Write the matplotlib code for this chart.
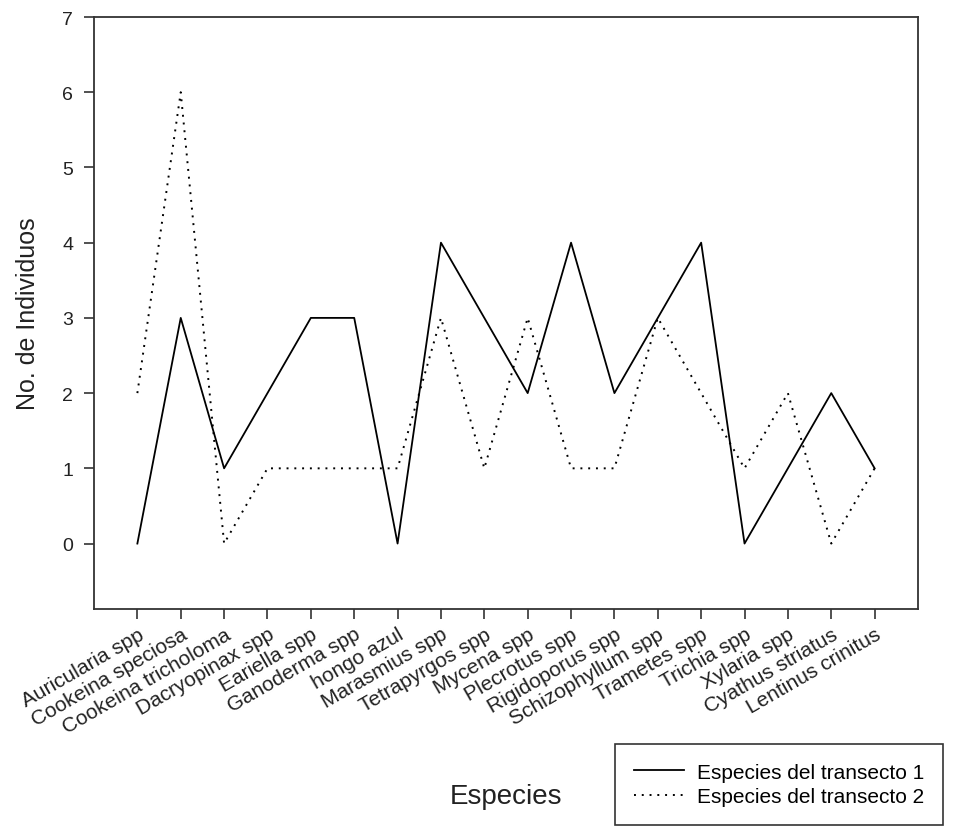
import matplotlib
matplotlib.use("Agg")
import matplotlib.pyplot as plt

plt.rcParams['font.family'] = ['Liberation Sans', 'DejaVu Sans']

species = ["Auricularia spp", "Cookeina speciosa", "Cookeina tricholoma",
           "Dacryopinax spp", "Eariella spp", "Ganoderma spp", "hongo azul",
           "Marasmius spp", "Tetrapyrgos spp", "Mycena spp", "Plecrotus spp",
           "Rigidoporus spp", "Schizophyllum spp", "Trametes spp", "Trichia spp",
           "Xylaria spp", "Cyathus striatus", "Lentinus crinitus"]
transecto1 = [0, 3, 1, 2, 3, 3, 0, 4, 3, 2, 4, 2, 3, 4, 0, 1, 2, 1]
transecto2 = [2, 6, 0, 1, 1, 1, 1, 3, 1, 3, 1, 1, 3, 2, 1, 2, 0, 1]
yticks = [0, 1, 2, 3, 4, 5, 6, 7]

fig = plt.figure(figsize=(9.65, 8.28), dpi=100)
ax = fig.add_axes([94/965, 1-610/828, (918-94)/965, (610-18)/828])

x = list(range(len(species)))
l1, = ax.plot(x, transecto1, color='black', linewidth=1.3, linestyle='-',
              label='Especies del transecto 1')
l2, = ax.plot(x, transecto2, color='black', linewidth=1.4, linestyle=(0, (1, 3)),
              label='Especies del transecto 2')

ax.set_xlim(-1, 18)
ax.set_ylim(-0.87, 7)
ax.set_yticks(yticks)
ax.set_yticklabels([str(v) for v in yticks], fontsize=14, color='#222222')
ax.set_xticks(x)
ax.set_xticklabels(species, rotation=30, ha='right', rotation_mode='anchor',
                   fontsize=15, color='#222222')
ax.tick_params(axis='both', direction='out', length=7, width=1.2, color='#333333')
ax.tick_params(axis='y', pad=8)
ax.tick_params(axis='x', pad=4)
for s in ax.spines.values():
    s.set_linewidth(1.3)
    s.set_color('#333333')

ax.set_ylabel('No. de Individuos', fontsize=18, color='#222222', labelpad=16)
fig.text(506/965, 1-797/828, 'Especies', fontsize=20, color='#222222',
         ha='center', va='center')

leg = fig.legend(handles=[l1, l2], loc='upper left',
                 bbox_to_anchor=(615/965, 1-745/828), fontsize=15,
                 frameon=True, fancybox=False, edgecolor='black',
                 handlelength=2.4, handletextpad=0.65, borderpad=0.9,
                 labelspacing=0.25, borderaxespad=0)
leg.get_frame().set_linewidth(1.2)

fig.savefig('out.png', dpi=100)
